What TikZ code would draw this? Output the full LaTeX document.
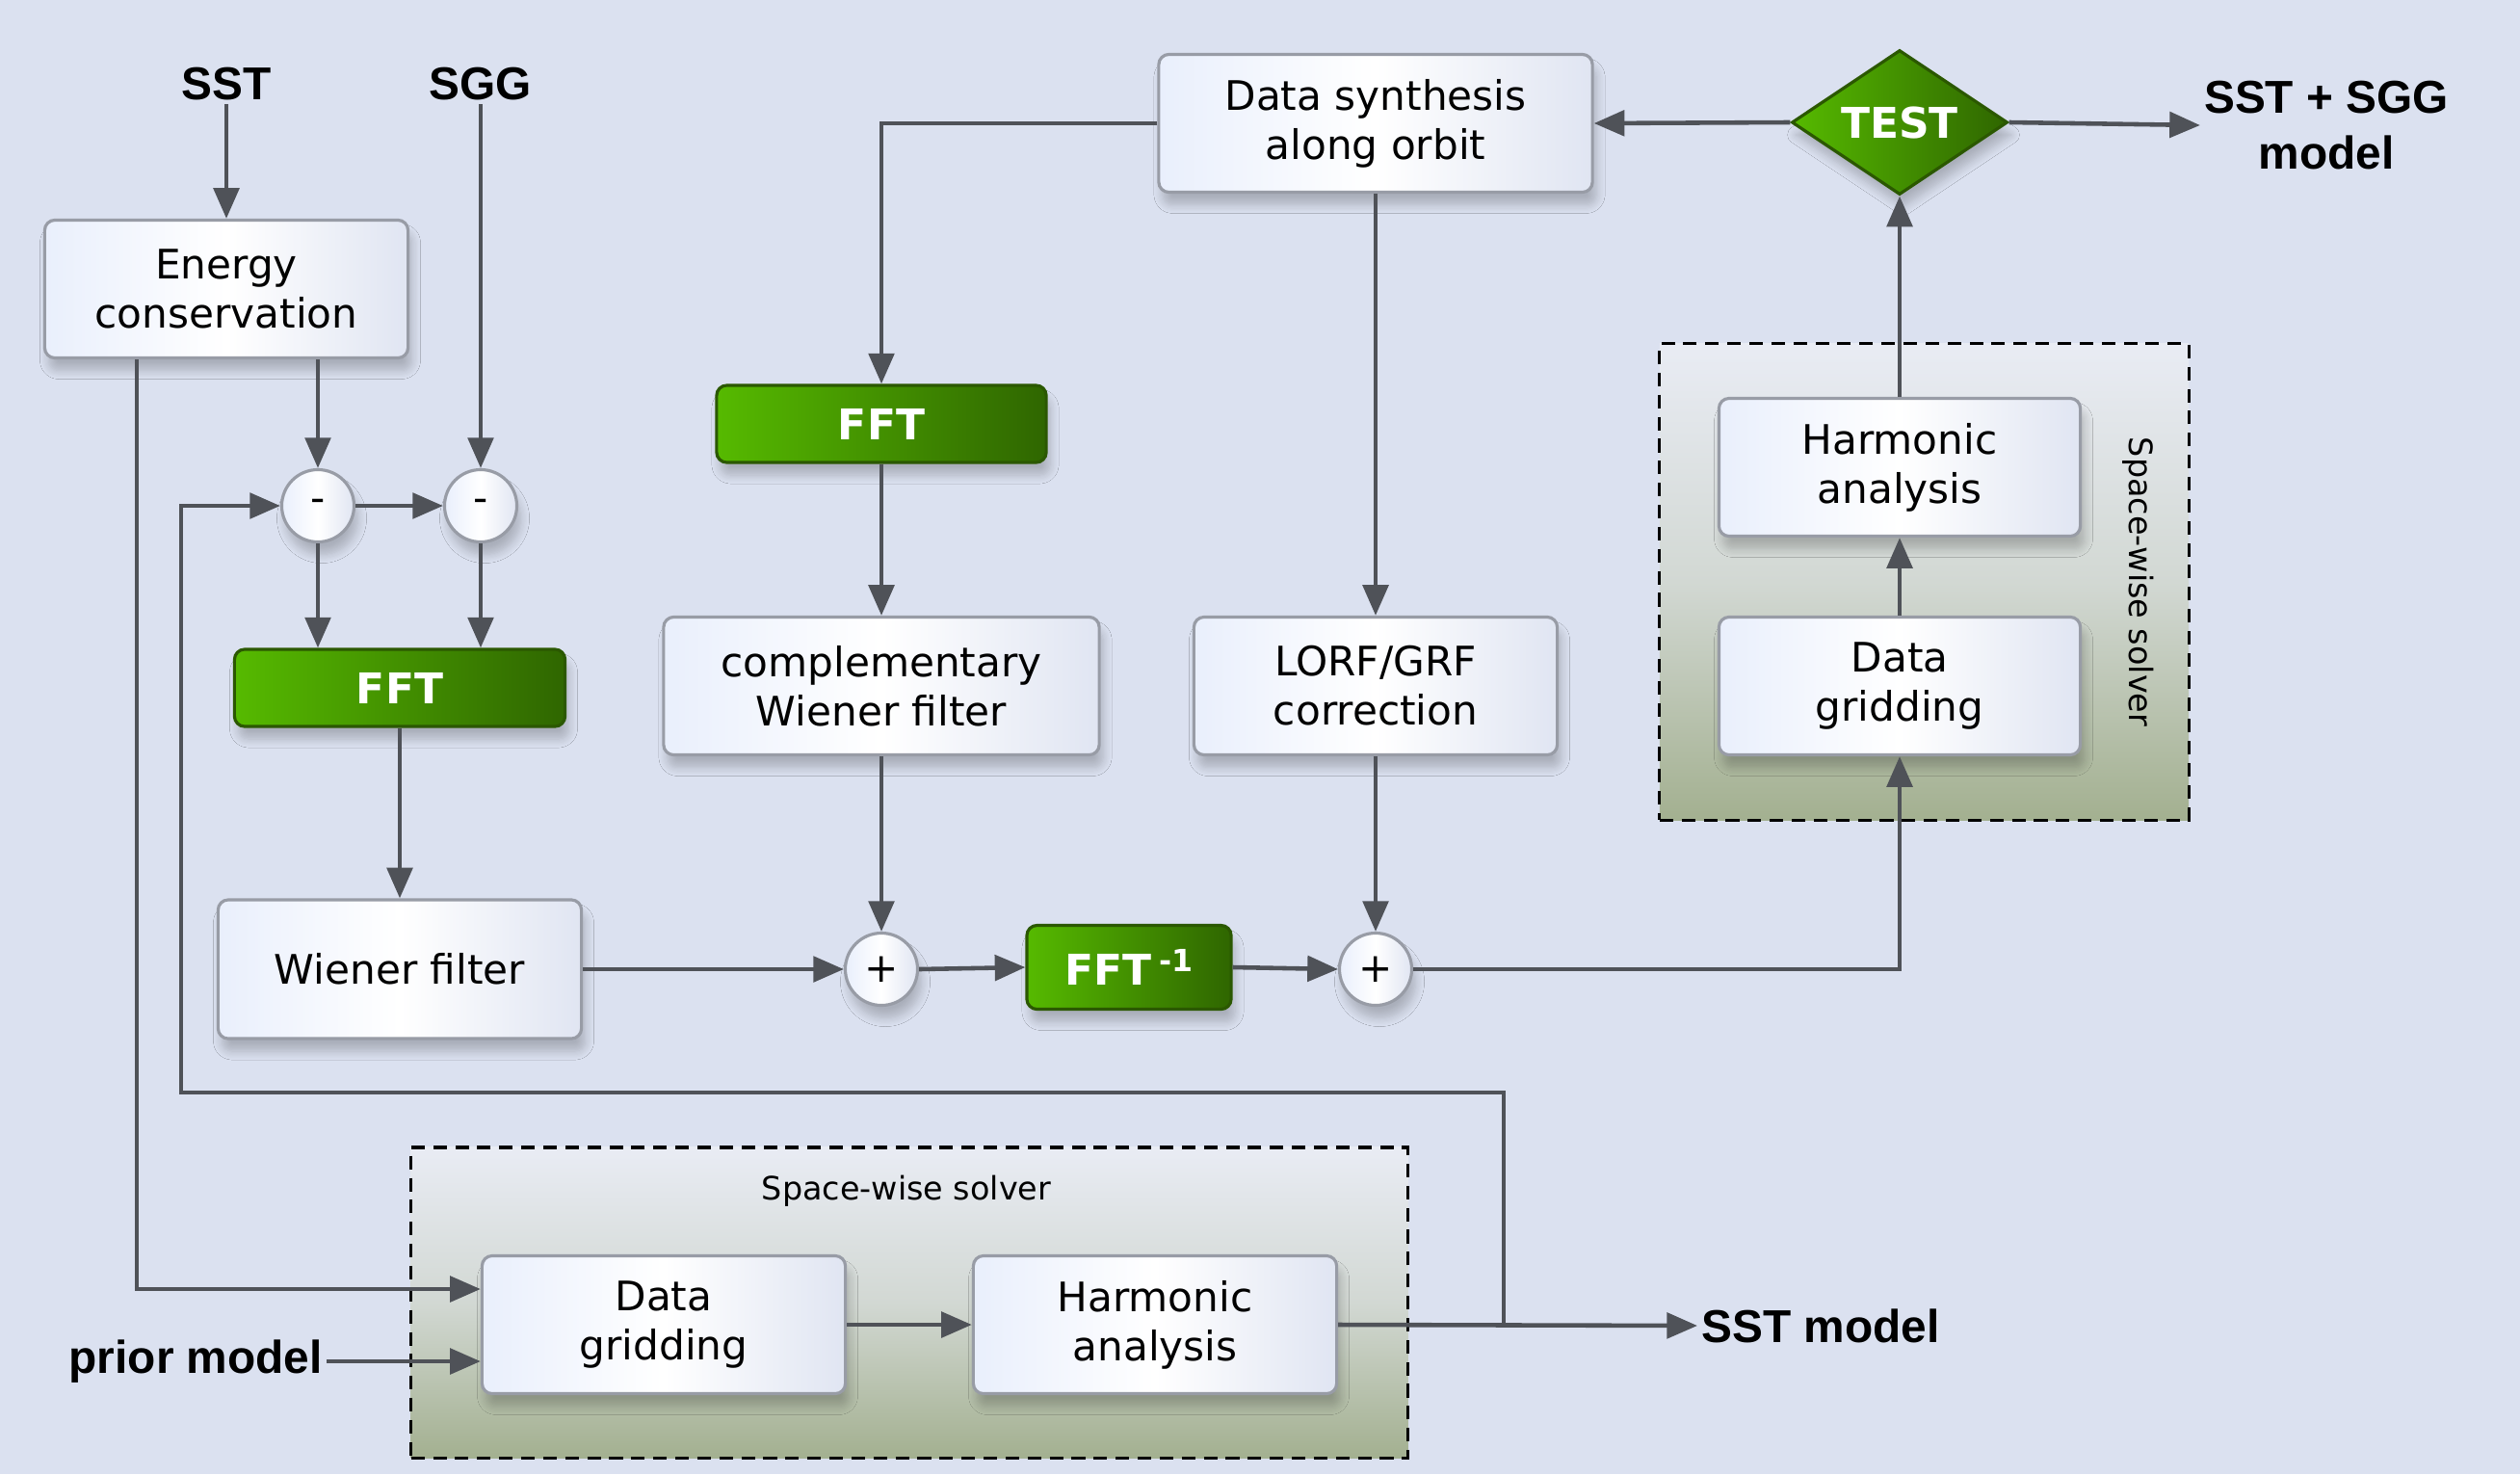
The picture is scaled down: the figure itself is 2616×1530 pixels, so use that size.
\documentclass[tikz,border=0pt]{standalone}
\usepackage{fontspec}
\setmainfont{DejaVu Sans}
\newfontfamily\labelfont{Liberation Sans}
\usetikzlibrary{shapes.geometric,arrows.meta,shadows.blur,calc}

\definecolor{bg}{HTML}{DBE1F0}
\definecolor{wire}{HTML}{4F5258}
\definecolor{boxline}{HTML}{989CA6}
\definecolor{boxA}{HTML}{E9EFFC}
\definecolor{boxB}{HTML}{E0E5F2}
\definecolor{greenA}{HTML}{56BA00}
\definecolor{greenB}{HTML}{2F6600}
\definecolor{greenline}{HTML}{2B5800}
\definecolor{panelTop}{HTML}{E9ECF4}
\definecolor{panelMid}{HTML}{D2D8D3}
\definecolor{panelBot}{HTML}{A3B090}

\tikzset{
  softshadow/.style={blur shadow={shadow xshift=0.4mm, shadow yshift=-1.3mm,
      shadow blur radius=0.9mm, shadow opacity=22, shadow blur steps=8}},
  proc/.style={rectangle, rounded corners=3pt, draw=boxline, line width=0.9pt,
      left color=boxA, right color=boxB, middle color=white, softshadow,
      align=center, font=\fontsize{12}{14.5}\selectfont, inner sep=2pt},
  fftbox/.style={rectangle, rounded corners=3pt, draw=greenline, line width=0.9pt,
      left color=greenA, right color=greenB, softshadow, text=white,
      font=\bfseries\fontsize{12.5}{14}\selectfont, inner sep=2pt},
  junction/.style={circle, draw=boxline, line width=0.9pt, minimum size=0.75cm,
      inner sep=0pt, left color=boxA, right color=boxB, middle color=white,
      softshadow, font=\fontsize{12}{12}\selectfont},
  decision/.style={diamond, draw=greenline, line width=0.9pt, aspect=1.5,
      minimum width=2.24cm, minimum height=1.5cm, inner sep=0pt,
      left color=greenA, right color=greenB, softshadow, text=white,
      font=\bfseries\fontsize{12.5}{14}\selectfont},
  panel/.style={rectangle, draw=black, line width=0.9pt, dash pattern=on 4pt off 2.5pt,
      top color=panelTop, bottom color=panelBot, middle color=panelMid},
  tag/.style={font=\labelfont\bfseries\fontsize{13.6}{16.5}\selectfont, align=center, inner sep=1pt},
  wire/.style={draw=wire, line width=1.3pt, -{Triangle[length=9pt,width=7.5pt]}}
}

\begin{document}
\begin{tikzpicture}[x=0.01cm, y=-0.01cm]
  \useasboundingbox[fill=bg] (0,0) rectangle (2616,1530);

  % solver panels
  \node[panel, minimum width=5.49cm, minimum height=4.94cm] (panelR) at (1997.5,604) {};
  \node[rotate=-90, font=\fontsize{9.5}{11}\selectfont] (panelRlbl) at (2220,604) {Space-wise solver};
  \node[panel, minimum width=10.34cm, minimum height=3.22cm] (panelB) at (944,1352) {};
  \node[font=\fontsize{9.5}{11}\selectfont] (panelBlbl) at (941,1236) {Space-wise solver};

  % inputs and outputs
  \node[tag] (sst) at (235,87) {SST};
  \node[tag] (sgg) at (499,87) {SGG};
  \node[tag] (full) at (2415,130) {SST + SGG\\model};
  \node[tag, anchor=east] (prior) at (339,1413) {prior model};
  \node[tag, anchor=west] (sstm) at (1762,1376) {SST model};

  % processing blocks
  \node[proc, minimum width=3.77cm, minimum height=1.43cm] (energy) at (235,300) {Energy\\conservation};
  \node[junction] (m1) at (330,525) {-};
  \node[junction] (m2) at (499,525) {-};
  \node[fftbox, minimum width=3.43cm, minimum height=0.80cm] (fft1) at (415,714) {FFT};
  \node[proc, minimum width=3.77cm, minimum height=1.44cm] (wiener) at (415,1006) {Wiener filter};
  \node[junction] (p1) at (915,1006) {+};
  \node[fftbox, minimum width=2.12cm, minimum height=0.87cm] (ifft) at (1172,1004) {FFT\,\raisebox{0.6ex}{\fontsize{9}{9}\selectfont -1}};
  \node[junction] (p2) at (1428,1006) {+};
  \node[proc, minimum width=4.52cm, minimum height=1.43cm] (cwf) at (915,712) {complementary\\Wiener filter};
  \node[proc, minimum width=3.77cm, minimum height=1.43cm] (lorf) at (1428,712) {LORF/GRF\\correction};
  \node[fftbox, minimum width=3.42cm, minimum height=0.80cm] (fft2) at (915,440) {FFT};
  \node[proc, minimum width=4.50cm, minimum height=1.43cm] (synth) at (1428,128) {Data synthesis\\along orbit};
  \node[decision] (test) at (1972,127) {TEST};
  \node[proc, minimum width=3.75cm, minimum height=1.43cm] (rha) at (1972,485) {Harmonic\\analysis};
  \node[proc, minimum width=3.75cm, minimum height=1.43cm] (rdg) at (1972,712) {Data\\gridding};
  \node[proc, minimum width=3.77cm, minimum height=1.43cm] (bdg) at (689,1375) {Data\\gridding};
  \node[proc, minimum width=3.77cm, minimum height=1.43cm] (bha) at (1199,1375) {Harmonic\\analysis};

  % helper points for routed lines
  \coordinate (ecol) at (142,0);
  \coordinate (gin) at ($(bdg.west)+(0,-37)$);
  \coordinate (fbA) at (1561,1375);
  \coordinate (fbB) at (188,1134);

  % connectors
  \draw[wire] (sst.south) -- (energy.north);
  \draw[wire] (sgg.south) -- (m2.north);
  \draw[wire] (energy.south -| m1.north) -- (m1.north);
  \draw[wire] (m1.east) -- (m2.west);
  \draw[wire] (m1.south) -- (m1.south |- fft1.north);
  \draw[wire] (m2.south) -- (m2.south |- fft1.north);
  \draw[wire] (fft1.south) -- (wiener.north);
  \draw[wire] (wiener.east) -- (p1.west);
  \draw[wire] (p1.east) -- (ifft.west);
  \draw[wire] (ifft.east) -- (p2.west);
  \draw[wire] (p2.east) -| (rdg.south);
  \draw[wire] (rdg.north) -- (rha.south);
  \draw[wire] (rha.north) -- (test.south);
  \draw[wire] (test.west) -- (synth.east);
  \draw[wire] (test.east) -- (full.west);
  \draw[wire] (synth.west) -| (fft2.north);
  \draw[wire] (synth.south) -- (lorf.north);
  \draw[wire] (fft2.south) -- (cwf.north);
  \draw[wire] (cwf.south) -- (p1.north);
  \draw[wire] (lorf.south) -- (p2.north);
  \draw[wire] (energy.south -| ecol) |- (gin);
  \draw[wire] (prior.east) -- (prior.east -| bdg.west);
  \draw[wire] (bdg.east) -- (bha.west);
  \draw[wire] (bha.east) -- (sstm.west);
  \draw[wire] (fbA) |- (fbB) |- (m1.west);
\end{tikzpicture}
\end{document}
